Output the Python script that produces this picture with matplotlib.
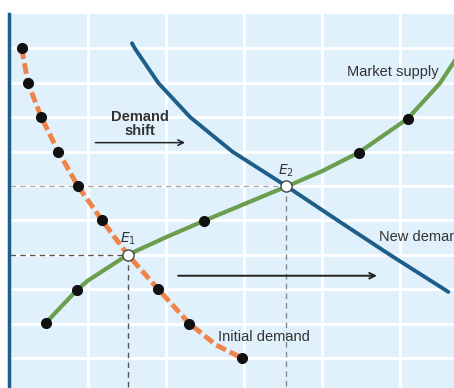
import matplotlib
matplotlib.use("Agg")
import matplotlib.pyplot as plt

plt.rcParams["font.family"] = ["Liberation Sans", "DejaVu Sans"]

# initial demand (orange, dashed)
demand_x = [0.15, 0.23, 0.40, 0.62, 0.87, 1.18, 1.51, 1.90, 2.30, 2.64, 2.97]
demand_y = [9, 8, 7, 6, 5, 4, 3, 2, 1, 0.38, 0]
demand_dots = [0, 1, 2, 3, 4, 5, 7, 8, 10]

# market supply (green)
supply_x = [0.46, 0.86, 1.00, 1.51, 2.00, 2.49, 3.54, 4.00, 4.47, 5.10, 5.51, 5.69, 5.76]
supply_y = [1.02, 1.98, 2.25, 3.0, 3.51, 3.99, 4.98, 5.43, 5.97, 6.96, 7.98, 8.6, 8.85]
supply_dots = [0, 1, 5, 8, 9]

# new demand (blue)
new_demand_x = [1.564, 1.60, 1.90, 2.31, 2.85, 3.54, 4.20, 4.87, 5.62]
new_demand_y = [9.15, 9.0, 8.0, 7.0, 6.0, 5.0, 4.0, 3.0, 1.92]

# equilibria
eq_names = ["$E_1$", "$E_2$"]
eq_x = [1.51, 3.54]
eq_y = [3, 5]

BLUE = "#1d5f8a"
GREEN = "#6b9e4f"
ORANGE = "#f0834a"
TEXT = "#333333"

fig = plt.figure(figsize=(4.54, 3.88), dpi=100)
ax = fig.add_axes([9 / 454, 0, 445 / 454, 374 / 388])
ax.set_xlim(-1 / 78, 444 / 78)
ax.set_ylim(-30 / 34.33, 10)
ax.set_facecolor("#e0f1fb")
ax.set_xticks(range(1, 6))
ax.set_yticks(range(0, 10))
ax.grid(color="white", lw=2)
ax.tick_params(length=0, labelbottom=False, labelleft=False)
for side in ["top", "right", "bottom"]:
    ax.spines[side].set_visible(False)
ax.spines["left"].set_color(BLUE)
ax.spines["left"].set_linewidth(2.5)

# guide lines to equilibria
ax.plot([0, eq_x[0]], [eq_y[0], eq_y[0]], ls=(0, (4, 3)), color="#555555", lw=1)
ax.plot([eq_x[0], eq_x[0]], [eq_y[0], -1], ls=(0, (4, 3)), color="#555555", lw=1)
ax.plot([0, eq_x[1]], [eq_y[1], eq_y[1]], ls=(0, (4, 3)), color="#aaaaaa", lw=1)
ax.plot([eq_x[1], eq_x[1]], [eq_y[1], -1], ls=(0, (4, 3)), color="#888888", lw=1)

ax.plot(supply_x, supply_y, color=GREEN, lw=3, solid_capstyle="round",
        solid_joinstyle="round", zorder=3)
ax.plot([supply_x[i] for i in supply_dots], [supply_y[i] for i in supply_dots],
        "o", color="#111111", ms=7, zorder=5)

ax.plot(new_demand_x, new_demand_y, color=BLUE, lw=2.8, solid_capstyle="round",
        solid_joinstyle="round", zorder=3)

ax.plot(demand_x, demand_y, color=ORANGE, lw=3.5, ls=(0, (2.2, 0.9)), zorder=4)
ax.plot([demand_x[i] for i in demand_dots], [demand_y[i] for i in demand_dots],
        "o", color="#111111", ms=7, zorder=5)

ax.plot(eq_x, eq_y, "o", mfc="white", mec="#444444", mew=1, ms=8, zorder=6)
for name, x, y in zip(eq_names, eq_x, eq_y):
    ax.text(x, y + 0.45, name, ha="center", va="center", fontsize=10,
            fontstyle="italic", color=TEXT, zorder=6)

# shift arrows
ax.annotate("", xy=(2.28, 6.26), xytext=(1.06, 6.26),
            arrowprops=dict(arrowstyle="->", color="#222222", lw=1.1))
ax.text(1.67, 6.79, "Demand\nshift", ha="center", va="center", fontsize=10.5,
        fontweight="bold", color=TEXT, linespacing=1.0)
ax.annotate("", xy=(4.74, 2.39), xytext=(2.12, 2.39),
            arrowprops=dict(arrowstyle="->", color="#222222", lw=1.4))

ax.text(4.91, 8.30, "Market supply", ha="center", va="center", fontsize=10.5, color=TEXT)
# the reference crops this label at the right edge
ax.text(4.73, 3.52, "New demand", ha="left", va="center", fontsize=10.5, color=TEXT)
ax.text(2.67, 0.61, "Initial demand", ha="left", va="center", fontsize=10.5, color=TEXT)

fig.savefig("out.png", dpi=100)
